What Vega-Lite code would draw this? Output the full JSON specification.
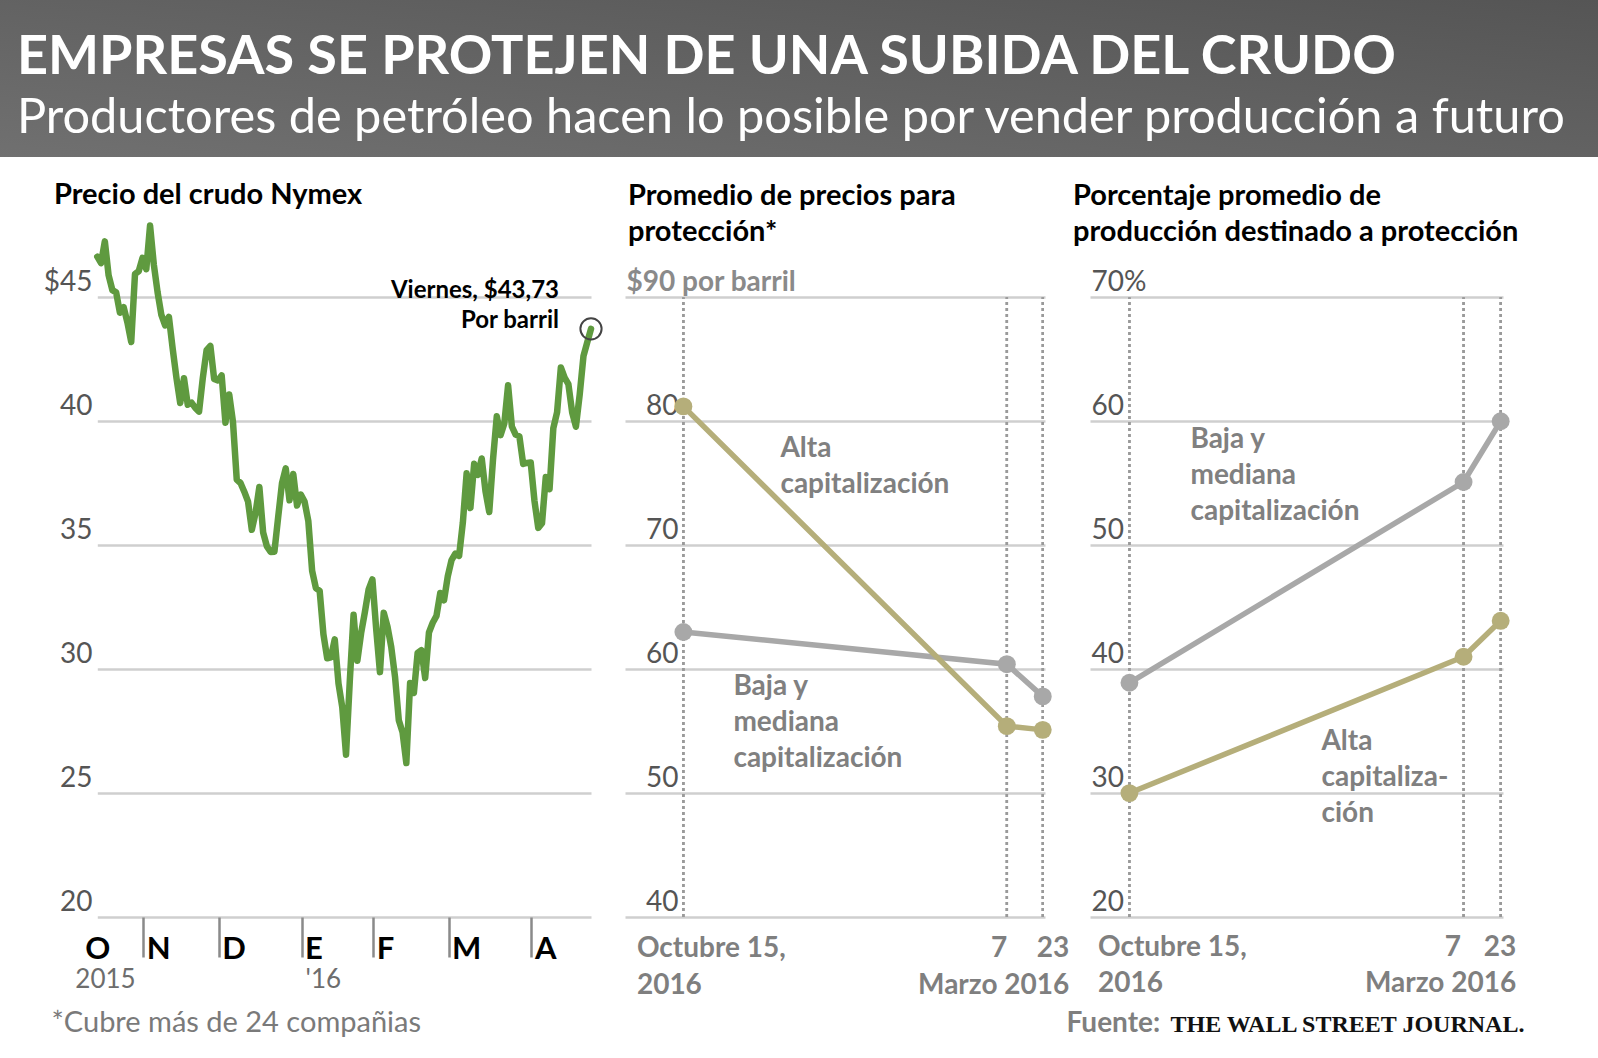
{
  "$schema": "https://vega.github.io/schema/vega-lite/v6.json",
  "padding": 0,
  "background": "white",
  "spacing": 66,
  "bounds": "flush",
  "config": {
    "font": "Lato",
    "view": {"stroke": null},
    "axis": {"domain": false, "ticks": false, "grid": false, "labelFont": "Lato", "titleFont": "Lato"},
    "title": {"font": "Lato", "subtitleFont": "Lato"},
    "text": {"font": "Lato"}
  },
  "vconcat": [
    {
      "width": 1598,
      "height": 157,
      "data": {"values": [{}]},
      "mark": {"type": "text", "text": ""},
      "view": {"stroke": null, "fill": {"gradient": "linear", "x1": 0, "y1": 1, "x2": 1, "y2": 0, "stops": [{"offset": 0, "color": "#707070"}, {"offset": 1, "color": "#555555"}]}},
      "title": {
        "text": "EMPRESAS SE PROTEJEN DE UNA SUBIDA DEL CRUDO",
        "subtitle": "Productores de petróleo hacen lo posible por vender producción a futuro",
        "anchor": "start", "frame": "group", "dx": 17, "offset": -143,
        "fontSize": 54, "fontWeight": "bold", "color": "white",
        "subtitleFontSize": 48.7, "subtitleColor": "white", "subtitleFontWeight": "normal", "subtitlePadding": 10
      }
    },
    {
      "bounds": "flush",
      "spacing": 34,
      "hconcat": [
        {"width": 15, "height": 694, "data": {"values": [{}]}, "mark": {"type": "text", "text": ""}},
        {
          "width": 542,
          "height": 694,
          "title": {"text": "Precio del crudo Nymex", "anchor": "start", "frame": "group", "dx": 5, "offset": 12, "fontSize": 29, "fontWeight": "bold", "color": "#000000"},
          "data": {"values": [
            {"d": "2015-10-14", "p": 46.64}, {"d": "2015-10-15", "p": 46.38}, {"d": "2015-10-16", "p": 47.26}, {"d": "2015-10-19", "p": 45.89},
            {"d": "2015-10-20", "p": 45.29}, {"d": "2015-10-21", "p": 45.2}, {"d": "2015-10-22", "p": 44.38}, {"d": "2015-10-23", "p": 44.6},
            {"d": "2015-10-26", "p": 43.98}, {"d": "2015-10-27", "p": 43.2}, {"d": "2015-10-28", "p": 45.94}, {"d": "2015-10-29", "p": 46.06},
            {"d": "2015-10-30", "p": 46.59}, {"d": "2015-11-02", "p": 46.14}, {"d": "2015-11-03", "p": 47.9}, {"d": "2015-11-04", "p": 46.32},
            {"d": "2015-11-05", "p": 45.2}, {"d": "2015-11-06", "p": 44.29}, {"d": "2015-11-09", "p": 43.87}, {"d": "2015-11-10", "p": 44.21},
            {"d": "2015-11-11", "p": 42.93}, {"d": "2015-11-12", "p": 41.75}, {"d": "2015-11-13", "p": 40.74}, {"d": "2015-11-16", "p": 41.74},
            {"d": "2015-11-17", "p": 40.67}, {"d": "2015-11-18", "p": 40.75}, {"d": "2015-11-19", "p": 40.54}, {"d": "2015-11-20", "p": 40.39},
            {"d": "2015-11-23", "p": 41.75}, {"d": "2015-11-24", "p": 42.87}, {"d": "2015-11-25", "p": 43.04}, {"d": "2015-11-27", "p": 41.71},
            {"d": "2015-11-30", "p": 41.65}, {"d": "2015-12-01", "p": 41.85}, {"d": "2015-12-02", "p": 39.94}, {"d": "2015-12-03", "p": 41.08},
            {"d": "2015-12-04", "p": 39.97}, {"d": "2015-12-07", "p": 37.65}, {"d": "2015-12-08", "p": 37.51}, {"d": "2015-12-09", "p": 37.16},
            {"d": "2015-12-10", "p": 36.76}, {"d": "2015-12-11", "p": 35.62}, {"d": "2015-12-14", "p": 36.31}, {"d": "2015-12-15", "p": 37.35},
            {"d": "2015-12-16", "p": 35.52}, {"d": "2015-12-17", "p": 34.95}, {"d": "2015-12-18", "p": 34.73}, {"d": "2015-12-21", "p": 34.74},
            {"d": "2015-12-22", "p": 36.14}, {"d": "2015-12-23", "p": 37.5}, {"d": "2015-12-24", "p": 38.1}, {"d": "2015-12-28", "p": 36.81},
            {"d": "2015-12-29", "p": 37.87}, {"d": "2015-12-30", "p": 36.6}, {"d": "2015-12-31", "p": 37.04}, {"d": "2016-01-04", "p": 36.76},
            {"d": "2016-01-05", "p": 35.97}, {"d": "2016-01-06", "p": 33.97}, {"d": "2016-01-07", "p": 33.27}, {"d": "2016-01-08", "p": 33.16},
            {"d": "2016-01-11", "p": 31.41}, {"d": "2016-01-12", "p": 30.44}, {"d": "2016-01-13", "p": 30.48}, {"d": "2016-01-14", "p": 31.2},
            {"d": "2016-01-15", "p": 29.42}, {"d": "2016-01-19", "p": 28.46}, {"d": "2016-01-20", "p": 26.55}, {"d": "2016-01-21", "p": 29.53},
            {"d": "2016-01-22", "p": 32.19}, {"d": "2016-01-25", "p": 30.34}, {"d": "2016-01-26", "p": 31.45}, {"d": "2016-01-27", "p": 32.3},
            {"d": "2016-01-28", "p": 33.22}, {"d": "2016-01-29", "p": 33.62}, {"d": "2016-02-01", "p": 31.62}, {"d": "2016-02-02", "p": 29.88},
            {"d": "2016-02-03", "p": 32.28}, {"d": "2016-02-04", "p": 31.72}, {"d": "2016-02-05", "p": 30.89}, {"d": "2016-02-08", "p": 29.69},
            {"d": "2016-02-09", "p": 27.94}, {"d": "2016-02-10", "p": 27.45}, {"d": "2016-02-11", "p": 26.21}, {"d": "2016-02-12", "p": 29.44},
            {"d": "2016-02-16", "p": 29.04}, {"d": "2016-02-17", "p": 30.66}, {"d": "2016-02-18", "p": 30.77}, {"d": "2016-02-19", "p": 29.64},
            {"d": "2016-02-22", "p": 31.48}, {"d": "2016-02-23", "p": 31.87}, {"d": "2016-02-24", "p": 32.15}, {"d": "2016-02-25", "p": 33.07},
            {"d": "2016-02-26", "p": 32.78}, {"d": "2016-02-29", "p": 33.75}, {"d": "2016-03-01", "p": 34.4}, {"d": "2016-03-02", "p": 34.66},
            {"d": "2016-03-03", "p": 34.57}, {"d": "2016-03-04", "p": 35.92}, {"d": "2016-03-07", "p": 37.9}, {"d": "2016-03-08", "p": 36.5},
            {"d": "2016-03-09", "p": 38.29}, {"d": "2016-03-10", "p": 37.84}, {"d": "2016-03-11", "p": 38.5}, {"d": "2016-03-14", "p": 37.18},
            {"d": "2016-03-15", "p": 36.34}, {"d": "2016-03-16", "p": 38.46}, {"d": "2016-03-17", "p": 40.2}, {"d": "2016-03-18", "p": 39.44},
            {"d": "2016-03-21", "p": 39.91}, {"d": "2016-03-22", "p": 41.45}, {"d": "2016-03-23", "p": 39.79}, {"d": "2016-03-24", "p": 39.46},
            {"d": "2016-03-28", "p": 39.39}, {"d": "2016-03-29", "p": 38.28}, {"d": "2016-03-30", "p": 38.32}, {"d": "2016-03-31", "p": 38.34},
            {"d": "2016-04-01", "p": 36.79}, {"d": "2016-04-04", "p": 35.7}, {"d": "2016-04-05", "p": 35.89}, {"d": "2016-04-06", "p": 37.75},
            {"d": "2016-04-07", "p": 37.26}, {"d": "2016-04-08", "p": 39.72}, {"d": "2016-04-11", "p": 40.36}, {"d": "2016-04-12", "p": 42.17},
            {"d": "2016-04-13", "p": 41.76}, {"d": "2016-04-14", "p": 41.5}, {"d": "2016-04-15", "p": 40.36}, {"d": "2016-04-18", "p": 39.78},
            {"d": "2016-04-19", "p": 41.08}, {"d": "2016-04-20", "p": 42.63}, {"d": "2016-04-21", "p": 43.18}, {"d": "2016-04-22", "p": 43.73}
          ]},
          "layer": [
            {
              "mark": {"type": "line", "color": "#5f9a3f", "strokeWidth": 6.5, "strokeJoin": "round", "strokeCap": "round"},
              "encoding": {
                "x": {
                  "field": "d", "type": "ordinal",
                  "scale": {"type": "point", "range": [48.3, 542], "padding": 0},
                  "axis": {
                    "values": ["2015-10-14", "2015-11-02", "2015-12-01", "2016-01-04", "2016-02-01", "2016-03-01", "2016-04-01"],
                    "labelExpr": "datum.value == '2015-10-14' ? 'O' : datum.value == '2015-11-02' ? 'N' : datum.value == '2015-12-01' ? 'D' : datum.value == '2016-01-04' ? 'E' : datum.value == '2016-02-01' ? 'F' : datum.value == '2016-03-01' ? 'M' : 'A'",
                    "ticks": true, "tickSize": 40, "tickColor": "#8a8a8a", "tickWidth": 2.5, "tickOffset": -3,
                    "tickOpacity": {"condition": {"test": "datum.value == '2015-10-14'", "value": 0}, "value": 1},
                    "labelAlign": {"condition": {"test": "datum.value == '2015-10-14'", "value": "center"}, "value": "left"},
                    "labelOffset": {"condition": {"test": "datum.value == '2015-10-14'", "value": 3}, "value": 3},
                    "labelBaseline": "alphabetic", "labelPadding": 1, "labelAngle": 0,
                    "labelFontSize": 31, "labelFontWeight": "bold", "labelColor": "#000000",
                    "labelOverlap": false, "labelBound": false, "labelFlush": false,
                    "title": "*Cubre más de 24 compañias", "titleX": 2, "titleY": 114, "titleAnchor": "start", "titleAlign": "left", "titleBaseline": "alphabetic",
                    "titleFontSize": 29, "titleFontWeight": "normal", "titleColor": "#7a7a7a"
                  }
                },
                "y": {
                  "field": "p", "type": "quantitative",
                  "scale": {"domain": [20, 48], "nice": false, "zero": false},
                  "axis": {
                    "values": [20, 25, 30, 35, 40, 45], "grid": true, "gridColor": "#cfcfcf", "gridWidth": 2.5,
                    "labelExpr": "datum.value == 45 ? '$45' : datum.label",
                    "labelAlign": "right", "labelPadding": -43, "labelBaseline": "alphabetic", "labelOffset": -7,
                    "labelFontSize": 28, "labelColor": "#555555", "title": null
                  }
                }
              }
            },
            {
              "transform": [{"filter": "datum.d == '2016-04-22'"}],
              "mark": {"type": "point", "filled": false, "size": 450, "stroke": "#444444", "strokeWidth": 2, "opacity": 1},
              "encoding": {"x": {"field": "d", "type": "ordinal"}, "y": {"field": "p", "type": "quantitative"}}
            },
            {
              "transform": [{"filter": "datum.d == '2016-04-22'"}],
              "mark": {"type": "text", "text": "Viernes, $43,73\nPor barril", "lineBreak": "\n", "lineHeight": 30.5, "align": "right", "baseline": "alphabetic", "dx": -32, "dy": -31, "fontSize": 24, "fontWeight": "bold", "color": "#000000"},
              "encoding": {"x": {"field": "d", "type": "ordinal"}, "y": {"field": "p", "type": "quantitative"}}
            },
            {
              "transform": [{"filter": "datum.d == '2015-10-14'"}],
              "mark": {"type": "text", "text": "2015", "align": "left", "baseline": "alphabetic", "dx": -22, "dy": 71, "fontSize": 26, "color": "#6d6d6d"},
              "encoding": {"x": {"field": "d", "type": "ordinal"}, "y": {"datum": 20, "type": "quantitative"}}
            },
            {
              "transform": [{"filter": "datum.d == '2016-01-04'"}],
              "mark": {"type": "text", "text": "'16", "align": "left", "baseline": "alphabetic", "dx": 1, "dy": 71, "fontSize": 26, "color": "#6d6d6d"},
              "encoding": {"x": {"field": "d", "type": "ordinal"}, "y": {"datum": 20, "type": "quantitative"}}
            }
          ]
        },
        {
          "bounds": "flush",
          "spacing": 45,
          "hconcat": [
            {
              "width": 420,
              "height": 694,
              "title": {"text": ["Promedio de precios para", "protección*"], "anchor": "start", "frame": "group", "dx": 3, "offset": -24, "lineHeight": 36, "fontSize": 29, "fontWeight": "bold", "color": "#000000"},
              "data": {"values": [
                {"f": "2015-10-15", "s": "Baja", "v": 63.0}, {"f": "2016-03-07", "s": "Baja", "v": 60.4}, {"f": "2016-03-23", "s": "Baja", "v": 57.8},
                {"f": "2015-10-15", "s": "Alta", "v": 81.2}, {"f": "2016-03-07", "s": "Alta", "v": 55.4}, {"f": "2016-03-23", "s": "Alta", "v": 55.1}
              ]},
              "layer": [
                {
                  "mark": {"type": "rule", "color": "#9a9a9a", "strokeDash": [3, 3], "strokeWidth": 2.5},
                  "encoding": {
                    "x": {
                      "field": "f", "type": "temporal",
                      "scale": {"domain": [{"year": 2015, "month": 9, "date": 19, "utc": true}, {"year": 2016, "month": 3, "date": 24, "utc": true}]},
                      "axis": {
                        "values": [{"year": 2015, "month": 10, "date": 15, "utc": true}, {"year": 2016, "month": 3, "date": 7, "utc": true}, {"year": 2016, "month": 3, "date": 23, "utc": true}],
                        "labelExpr": "utcmonth(datum.value) == 9 ? ['Octubre 15,', '2016'] : utcdate(datum.value) == 7 ? '7' : ['23', 'Marzo 2016']",
                        "labelAlign": {"condition": {"test": "utcmonth(datum.value) == 9", "value": "left"}, "value": "right"},
                        "labelOffset": {"condition": [{"test": "utcmonth(datum.value) == 9", "value": -47}, {"test": "utcdate(datum.value) == 23", "value": 26}], "value": 0},
                        "labelBaseline": "alphabetic", "labelPadding": 39, "labelLineHeight": 37, "labelAngle": 0,
                        "labelFontSize": 28, "labelFontWeight": "bold", "labelColor": "#7f7f7f",
                        "labelOverlap": false, "labelBound": false, "labelFlush": false,
                        "title": "THE WALL STREET JOURNAL.", "titleX": 545, "titleY": 114, "titleAnchor": "start", "titleAlign": "left", "titleBaseline": "alphabetic",
                        "titleFont": "Liberation Serif", "titleFontSize": 24, "titleFontWeight": "bold", "titleColor": "#111111"
                      }
                    },
                    "y": {"datum": 40, "type": "quantitative"},
                    "y2": {"datum": 90}
                  }
                },
                {
                  "mark": {"type": "line", "strokeWidth": 5.5, "point": {"filled": true, "size": 320}},
                  "encoding": {
                    "x": {"field": "f", "type": "temporal"},
                    "y": {
                      "field": "v", "type": "quantitative",
                      "scale": {"domain": [40, 96], "nice": false, "zero": false},
                      "axis": {
                        "values": [40, 50, 60, 70, 80, 90], "grid": true, "gridColor": "#cfcfcf", "gridWidth": 2.5,
                        "labelExpr": "datum.value == 90 ? '$90 por barril' : datum.label",
                        "labelAlign": {"condition": {"test": "datum.value == 90", "value": "left"}, "value": "right"},
                        "labelPadding": {"condition": {"test": "datum.value == 90", "value": -1}, "value": -53},
                        "labelFontWeight": {"condition": {"test": "datum.value == 90", "value": "bold"}, "value": "normal"},
                        "labelColor": {"condition": {"test": "datum.value == 90", "value": "#8a8a8a"}, "value": "#555555"},
                        "labelBaseline": "alphabetic", "labelOffset": -7, "labelFontSize": 28, "title": null
                      }
                    },
                    "color": {"field": "s", "type": "nominal", "scale": {"domain": ["Baja", "Alta"], "range": ["#a8a8a8", "#b5ae7a"]}, "legend": null}
                  }
                },
                {
                  "transform": [{"filter": "datum.s == 'Alta' && datum.v > 80"}],
                  "mark": {"type": "text", "text": "Alta\ncapitalización", "lineBreak": "\n", "lineHeight": 36, "align": "left", "baseline": "alphabetic", "dx": 97, "dy": 51, "fontSize": 28, "fontWeight": "bold", "color": "#808080"},
                  "encoding": {"x": {"field": "f", "type": "temporal"}, "y": {"field": "v", "type": "quantitative"}}
                },
                {
                  "transform": [{"filter": "datum.s == 'Baja' && datum.v > 62"}],
                  "mark": {"type": "text", "text": "Baja y\nmediana\ncapitalización", "lineBreak": "\n", "lineHeight": 36, "align": "left", "baseline": "alphabetic", "dx": 50, "dy": 63, "fontSize": 28, "fontWeight": "bold", "color": "#808080"},
                  "encoding": {"x": {"field": "f", "type": "temporal"}, "y": {"field": "v", "type": "quantitative"}}
                }
              ]
            },
            {
              "width": 413,
              "height": 694,
              "title": {"text": ["Porcentaje promedio de", "producción destinado a protección"], "anchor": "start", "frame": "group", "dx": -17, "offset": -24, "lineHeight": 36, "fontSize": 29, "fontWeight": "bold", "color": "#000000"},
              "data": {"values": [
                {"f": "2015-10-15", "s": "Baja", "v": 38.9}, {"f": "2016-03-07", "s": "Baja", "v": 55.1}, {"f": "2016-03-23", "s": "Baja", "v": 60.0},
                {"f": "2015-10-15", "s": "Alta", "v": 30.0}, {"f": "2016-03-07", "s": "Alta", "v": 41.0}, {"f": "2016-03-23", "s": "Alta", "v": 43.9}
              ]},
              "layer": [
                {
                  "mark": {"type": "rule", "color": "#9a9a9a", "strokeDash": [3, 3], "strokeWidth": 2.5},
                  "encoding": {
                    "x": {
                      "field": "f", "type": "temporal",
                      "scale": {"domain": [{"year": 2015, "month": 9, "date": 28, "utc": true}, {"year": 2016, "month": 3, "date": 24, "utc": true}]},
                      "axis": {
                        "values": [{"year": 2015, "month": 10, "date": 15, "utc": true}, {"year": 2016, "month": 3, "date": 7, "utc": true}, {"year": 2016, "month": 3, "date": 23, "utc": true}],
                        "labelExpr": "utcmonth(datum.value) == 9 ? ['Octubre 15,', '2016'] : utcdate(datum.value) == 7 ? '7' : ['23', 'Marzo 2016']",
                        "labelAlign": {"condition": {"test": "utcmonth(datum.value) == 9", "value": "left"}, "value": "right"},
                        "labelOffset": {"condition": [{"test": "utcmonth(datum.value) == 9", "value": -32}, {"test": "utcdate(datum.value) == 23", "value": 15}], "value": -3},
                        "labelBaseline": "alphabetic", "labelPadding": 38, "labelLineHeight": 36, "labelAngle": 0,
                        "labelFontSize": 28, "labelFontWeight": "bold", "labelColor": "#7f7f7f",
                        "labelOverlap": false, "labelBound": false, "labelFlush": false,
                        "title": "Fuente:", "titleX": -24, "titleY": 114, "titleAnchor": "start", "titleAlign": "left", "titleBaseline": "alphabetic",
                        "titleFontSize": 28, "titleFontWeight": "bold", "titleColor": "#7f7f7f"
                      }
                    },
                    "y": {"datum": 20, "type": "quantitative"},
                    "y2": {"datum": 70}
                  }
                },
                {
                  "mark": {"type": "line", "strokeWidth": 5.5, "point": {"filled": true, "size": 320}},
                  "encoding": {
                    "x": {"field": "f", "type": "temporal"},
                    "y": {
                      "field": "v", "type": "quantitative",
                      "scale": {"domain": [20, 76], "nice": false, "zero": false},
                      "axis": {
                        "values": [20, 30, 40, 50, 60, 70], "grid": true, "gridColor": "#cfcfcf", "gridWidth": 2.5,
                        "labelExpr": "datum.value == 70 ? '70%' : datum.label",
                        "labelAlign": "left", "labelPadding": -1,
                        "labelBaseline": "alphabetic", "labelOffset": -7, "labelFontSize": 28, "labelColor": "#555555", "title": null
                      }
                    },
                    "color": {"field": "s", "type": "nominal", "scale": {"domain": ["Baja", "Alta"], "range": ["#a8a8a8", "#b5ae7a"]}, "legend": null}
                  }
                },
                {
                  "transform": [{"filter": "datum.s == 'Baja' && datum.v < 39.5"}],
                  "mark": {"type": "text", "text": "Baja y\nmediana\ncapitalización", "lineBreak": "\n", "lineHeight": 36, "align": "left", "baseline": "alphabetic", "dx": 61, "dy": -235, "fontSize": 28, "fontWeight": "bold", "color": "#808080"},
                  "encoding": {"x": {"field": "f", "type": "temporal"}, "y": {"field": "v", "type": "quantitative"}}
                },
                {
                  "transform": [{"filter": "datum.s == 'Alta' && datum.v < 31"}],
                  "mark": {"type": "text", "text": "Alta\ncapitaliza-\nción", "lineBreak": "\n", "lineHeight": 36, "align": "left", "baseline": "alphabetic", "dx": 192, "dy": -43, "fontSize": 28, "fontWeight": "bold", "color": "#808080"},
                  "encoding": {"x": {"field": "f", "type": "temporal"}, "y": {"field": "v", "type": "quantitative"}}
                }
              ]
            }
          ]
        }
      ]
    }
  ]
}
